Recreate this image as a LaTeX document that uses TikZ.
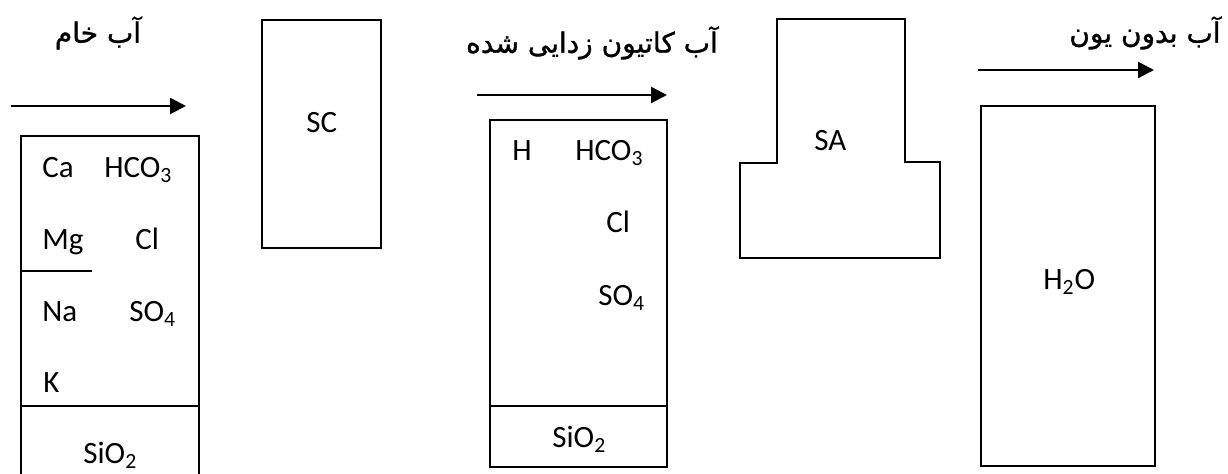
\documentclass[tikz,border=0pt]{standalone}
\usepackage{fontspec}
\setmainfont{Carlito}
\newfontfamily\arabicfont[Script=Arabic,FakeBold=1.2]{DejaVu Sans}
\TeXXeTstate=1
\usetikzlibrary{arrows.meta}
\begin{document}
\begin{tikzpicture}[x=0.5pt,y=-0.5pt,
  lbl/.style={anchor=base west,inner sep=0pt,font=\fontsize{15.5}{18}\selectfont},
  fa/.style={inner sep=0pt,font=\fontsize{14}{17}\selectfont\arabicfont},
  edge/.style={line width=1pt,line join=miter},
  flow/.style={line width=1.2pt,-{Triangle[length=8pt,width=8pt]}}]
\useasboundingbox (0,0) rectangle (1228,474);
% titles
\node[fa] (t1) at (98,33) {\beginR آب خام\endR};
\node[fa] (t2) at (592,43) {\beginR آب کاتیون زدایی شده\endR};
\node[fa] (t3) at (1145,33) {\beginR آب بدون یون\endR};
% arrows
\coordinate (a1s) at (11,106); \coordinate (a1e) at (186,106);
\coordinate (a2s) at (477,95); \coordinate (a2e) at (667,95);
\coordinate (a3s) at (978,70); \coordinate (a3e) at (1154,70);
\draw[flow] (a1s) -- (a1e);
\draw[flow] (a2s) -- (a2e);
\draw[flow] (a3s) -- (a3e);
% box 1 (raw water)
\draw[edge] (21,476) -- (21,136) -- (199,136) -- (199,476);
\draw[edge] (21,406) -- (199,406);
\draw[line width=0.8pt] (21,271) -- (92,271);
\node[lbl] (ca) at (42,178) {Ca};
\node[lbl] (hco1) at (104,178) {HCO\textsubscript{3}};
\node[lbl] (mg) at (42,250) {Mg};
\node[lbl] (cl1) at (135,250) {Cl};
\node[lbl] (na) at (42,322) {Na};
\node[lbl] (so1) at (129,322) {SO\textsubscript{4}};
\node[lbl] (k) at (43,393) {K};
\node[lbl] (si1) at (83,464) {SiO\textsubscript{2}};
% SC
\draw[edge] (262,20) rectangle (381,248);
\node[lbl] (sc) at (306,133) {SC};
% box 2 (decationized water)
\draw[edge] (490,120) rectangle (667,467);
\draw[edge] (490,406) -- (667,406);
\node[lbl] (h) at (512,161) {H};
\node[lbl] (hco2) at (575,161) {HCO\textsubscript{3}};
\node[lbl] (cl2) at (606,233) {Cl};
\node[lbl] (so2) at (598,306) {SO\textsubscript{4}};
\node[lbl] (si2) at (552,448) {SiO\textsubscript{2}};
% SA
\draw[edge] (740,163) -- (777,163) -- (777,19) -- (905,19) -- (905,162) -- (940,162) -- (940,258) -- (740,258) -- cycle;
\node[lbl] (sa) at (814,151) {SA};
% H2O
\draw[edge] (981,106) rectangle (1155,466);
\node[lbl] (h2o) at (1043,290) {H\textsubscript{2}O};
\end{tikzpicture}
\end{document}
